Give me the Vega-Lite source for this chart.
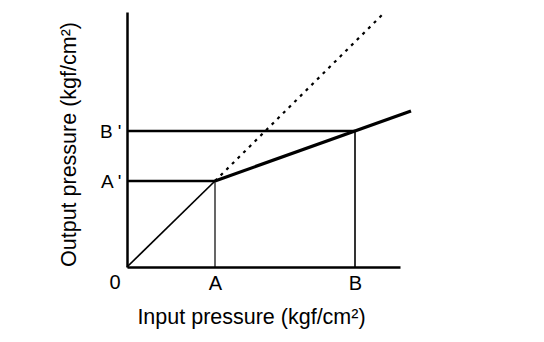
{
  "$schema": "https://vega.github.io/schema/vega-lite/v6.json",
  "autosize": {"type": "none"},
  "padding": {"left": 127, "top": 12, "right": 144, "bottom": 75},
  "width": 273,
  "height": 255,
  "background": "white",
  "config": {
    "view": {"stroke": null},
    "font": "Liberation Sans",
    "axis": {
      "grid": false,
      "ticks": false,
      "domainColor": "black",
      "domainWidth": 2.5,
      "labelColor": "black",
      "titleColor": "black",
      "labelFont": "Liberation Sans",
      "titleFont": "Liberation Sans",
      "labelFontSize": 20,
      "titleFontSize": 21.5,
      "titleFontWeight": "normal"
    }
  },
  "datasets": {
    "segs": [
      {"kind": "diag", "x1": 0, "y1": 0, "x2": 88, "y2": 86},
      {"kind": "slope", "x1": 88, "y1": 86, "x2": 284, "y2": 156},
      {"kind": "dotted", "x1": 88, "y1": 86, "x2": 258, "y2": 255},
      {"kind": "hline", "x1": 0, "y1": 86, "x2": 88, "y2": 86},
      {"kind": "hline", "x1": 0, "y1": 136, "x2": 228, "y2": 136},
      {"kind": "vA", "x1": 88, "y1": 0, "x2": 88, "y2": 86},
      {"kind": "vB", "x1": 228, "y1": 0, "x2": 228, "y2": 136}
    ],
    "origin": [{"x": 0, "y": 0, "label": "0"}]
  },
  "data": {"name": "segs"},
  "layer": [
    {
      "transform": [{"filter": "datum.kind == 'hline'"}],
      "mark": {"type": "rule", "color": "black", "strokeWidth": 2.5},
      "encoding": {
        "x": {"field": "x1", "type": "quantitative", "scale": {"domain": [0, 273], "nice": false},
          "axis": {"values": [88, 228], "labelExpr": "datum.value == 88 ? 'A' : 'B'", "labelFontSize": 20, "labelPadding": 6, "title": "Input pressure (kgf/cm²)", "titleFontSize": 21.5, "titleX": 124, "titleY": 56, "titleBaseline": "alphabetic", "titleAlign": "center"}},
        "y": {"field": "y1", "type": "quantitative", "scale": {"domain": [0, 255], "nice": false},
          "axis": {"values": [86, 136], "labelExpr": "datum.value == 86 ? \"A '\" : \"B '\"", "labelFontSize": 19, "labelPadding": 6, "labelBaseline": "middle", "title": "Output pressure (kgf/cm²)", "titleFontSize": 21.5, "titleX": -52, "titleY": 132, "titleBaseline": "alphabetic", "titleAlign": "center", "titleAngle": -90}},
        "x2": {"field": "x2"},
        "y2": {"field": "y2"}
      }
    },
    {
      "transform": [{"filter": "datum.kind == 'diag'"}],
      "mark": {"type": "rule", "color": "black", "strokeWidth": 1.7},
      "encoding": {
        "x": {"field": "x1", "type": "quantitative"},
        "y": {"field": "y1", "type": "quantitative"},
        "x2": {"field": "x2"},
        "y2": {"field": "y2"}
      }
    },
    {
      "transform": [{"filter": "datum.kind == 'slope'"}],
      "mark": {"type": "rule", "color": "black", "strokeWidth": 3.2},
      "encoding": {
        "x": {"field": "x1", "type": "quantitative"},
        "y": {"field": "y1", "type": "quantitative"},
        "x2": {"field": "x2"},
        "y2": {"field": "y2"}
      }
    },
    {
      "transform": [{"filter": "datum.kind == 'dotted'"}],
      "mark": {"type": "rule", "color": "black", "strokeWidth": 2.2, "strokeDash": [3, 5]},
      "encoding": {
        "x": {"field": "x1", "type": "quantitative"},
        "y": {"field": "y1", "type": "quantitative"},
        "x2": {"field": "x2"},
        "y2": {"field": "y2"}
      }
    },
    {
      "transform": [{"filter": "datum.kind == 'vA'"}],
      "mark": {"type": "rule", "color": "black", "strokeWidth": 1.2},
      "encoding": {
        "x": {"field": "x1", "type": "quantitative"},
        "y": {"field": "y1", "type": "quantitative"},
        "x2": {"field": "x2"},
        "y2": {"field": "y2"}
      }
    },
    {
      "transform": [{"filter": "datum.kind == 'vB'"}],
      "mark": {"type": "rule", "color": "black", "strokeWidth": 1.6},
      "encoding": {
        "x": {"field": "x1", "type": "quantitative"},
        "y": {"field": "y1", "type": "quantitative"},
        "x2": {"field": "x2"},
        "y2": {"field": "y2"}
      }
    },
    {
      "data": {"name": "origin"},
      "mark": {"type": "text", "color": "black", "fontSize": 20, "font": "Liberation Sans", "dx": -12, "dy": 16, "baseline": "middle"},
      "encoding": {
        "x": {"field": "x", "type": "quantitative"},
        "y": {"field": "y", "type": "quantitative"},
        "text": {"field": "label"}
      }
    }
  ]
}
